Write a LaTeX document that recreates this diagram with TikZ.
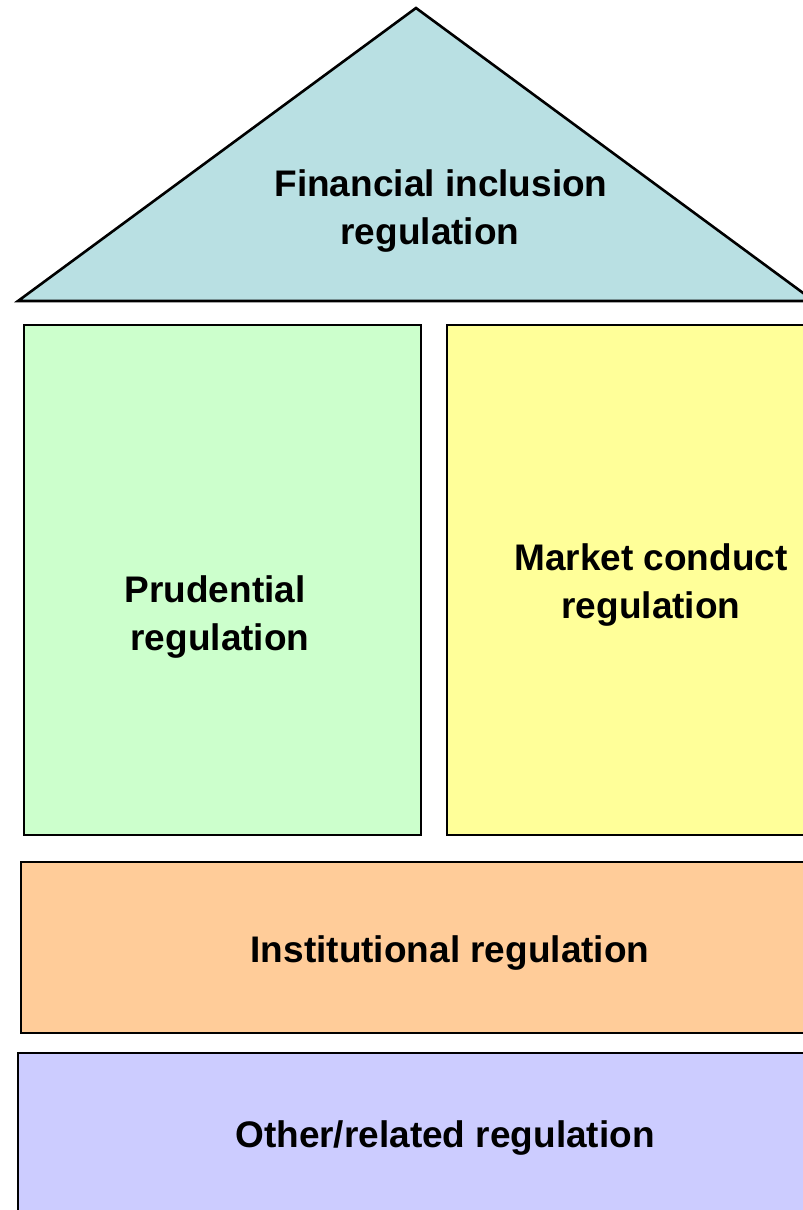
\documentclass[tikz,border=0pt]{standalone}
\usepackage{fontspec}
\setmainfont{Liberation Sans}
\definecolor{roofc}{HTML}{B9E0E3}
\definecolor{greenc}{HTML}{CCFFCC}
\definecolor{yellowc}{HTML}{FFFF99}
\definecolor{orangec}{HTML}{FFCC99}
\definecolor{bluec}{HTML}{CCCCFF}
\begin{document}
\begin{tikzpicture}[x=1pt,y=-1pt,
  part/.style={draw=black,line width=2.6pt,line join=miter},
  lbl/.style={font=\fontsize{37}{48.5}\selectfont\bfseries,align=center,text=black}]
\useasboundingbox (0,0) rectangle (803,1210);
\begin{scope}
\clip (0,0) rectangle (803,1210);
\filldraw[part,fill=roofc] (416,8) -- (814,301) -- (18,301) -- cycle;
\filldraw[part,fill=greenc] (24,325) rectangle (421,835);
\filldraw[part,fill=yellowc] (447,325) rectangle (844,835);
\filldraw[part,fill=orangec] (21,862) rectangle (844,1033);
\filldraw[part,fill=bluec] (18,1053) rectangle (844,1250);
\end{scope}
\node[lbl] (roof) at (441,211) {Financial inclusion\\regulation\hspace*{22pt}};
\node[lbl] (prud) at (215,617) {Prudential\\\hspace*{10pt}regulation};
\node[lbl] (market) at (651,585) {Market conduct\\regulation};
\node[lbl] (inst) at (450,953) {Institutional regulation};
\node[lbl] (other) at (445,1138) {Other/related regulation};
\end{tikzpicture}
\end{document}
